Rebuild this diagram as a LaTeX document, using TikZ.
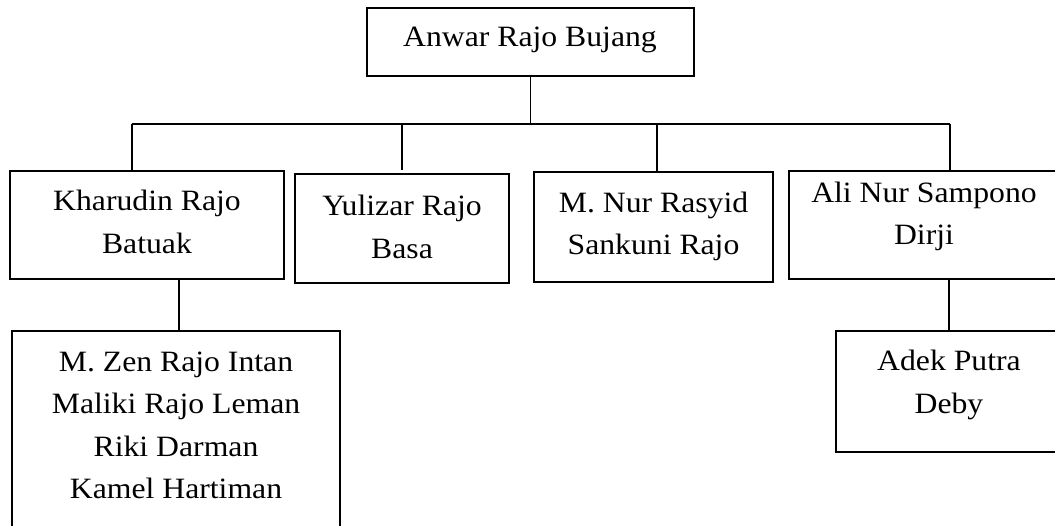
\documentclass[tikz,border=0pt]{standalone}
\usepackage{fontspec}
\setmainfont{Liberation Serif}[FakeStretch=1.075]
\begin{document}
\begin{tikzpicture}[x=1pt,y=-1pt,
  box/.style={draw,line width=1.3pt,rectangle,inner sep=0pt},
  txt/.style={anchor=north,align=center,inner sep=0pt,font=\fontsize{29.5}{42.5}\selectfont},
  conn/.style={line width=1.3pt}]
\useasboundingbox (0,0) rectangle (1055,526);
% boxes
\node[box,minimum width=327pt,minimum height=68pt] (top) at (530.5,42) {};
\node[box,minimum width=274pt,minimum height=108pt] (khar) at (147,225) {};
\node[box,minimum width=214pt,minimum height=109pt] (yul) at (402,228.5) {};
\node[box,minimum width=239pt,minimum height=110pt] (mnur) at (653.5,227) {};
\node[box,minimum width=271pt,minimum height=108pt] (ali) at (924.5,225) {};
\node[box,minimum width=226pt,minimum height=121pt] (adek) at (949,391.5) {};
\node[box,minimum width=328pt,minimum height=215pt] (mzen) at (176,438.5) {};
% texts
\node[txt] (ttop) at (530,26.6) {Anwar Rajo Bujang};
\node[txt] (tkhar) at (147,189.9) {Kharudin Rajo\\Batuak};
\node[txt] (tyul) at (402,194.9) {Yulizar Rajo\\Basa};
\node[txt] (tmnur) at (653.5,191.6) {M. Nur Rasyid\\Sankuni Rajo};
\node[txt] (tali) at (924,181.6) {Ali Nur Sampono\\Dirji};
\node[txt] (tadek) at (949,349.9) {Adek Putra\\Deby};
\node[txt] (tmzen) at (176,351.6) {M. Zen Rajo Intan\\Maliki Rajo Leman\\Riki Darman\\Kamel Hartiman};
% connectors
\coordinate (j1) at (132,124);
\coordinate (j2) at (402,124);
\coordinate (j3) at (657,124);
\coordinate (j4) at (950,124);
\coordinate (yulgap) at (402,170.5);
\draw[conn] (top.south) -- (top.south |- j1);
\draw[conn] (j1) -- (j4);
\draw[conn] (j1) -- (j1 |- khar.north);
\draw[conn] (j2) -- (yulgap);
\draw[conn] (j3) -- (j3 |- mnur.north);
\draw[conn] (j4) -- (j4 |- ali.north);
\draw[conn] ([xshift=32pt]khar.south) -- ([xshift=32pt]khar.south |- mzen.north);
\draw[conn] (adek.north |- ali.south) -- (adek.north);
\end{tikzpicture}
\end{document}
